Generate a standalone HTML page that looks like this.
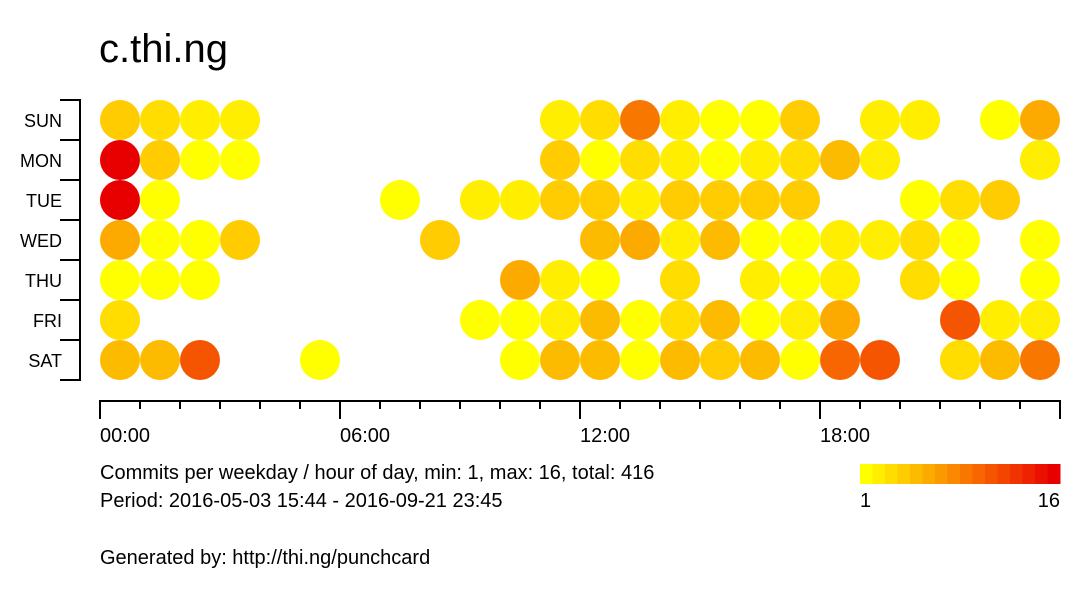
<!DOCTYPE html>
<html><head><meta charset="utf-8"><style>
html,body{margin:0;padding:0;background:#fff;}
svg{display:block;font-family:"Liberation Sans",Arial,sans-serif;}
</style></head><body>
<svg id="chart" width="1080" height="600" viewBox="0 0 1080 600">
<text x="99" y="62" font-size="40">c.thi.ng</text>
<g id="yaxis"></g>
<g id="xaxis"></g>
<g id="cells"></g>
<text x="100" y="479" font-size="20">Commits per weekday / hour of day, min: 1, max: 16, total: 416</text>
<text x="100" y="507" font-size="20">Period: 2016-05-03 15:44 - 2016-09-21 23:45</text>
<text x="100" y="564" font-size="20">Generated by: http://thi.ng/punchcard</text>
<g id="legend"></g>
</svg>
<script>
const days = ["SUN","MON","TUE","WED","THU","FRI","SAT"];
const hourLabels = ["00:00","06:00","12:00","18:00"];
const legendLabels = ["1","16"];
const minVal = 1;
const maxVal = 16;
const sun = [4,3,2,2,0,0,0,0,0,0,0,2,3,9,2,1,1,4,0,2,2,0,1,6];
const mon = [16,4,1,1,0,0,0,0,0,0,0,4,1,3,2,1,2,3,5,2,0,0,0,2];
const tue = [16,1,0,0,0,0,0,1,0,2,2,4,4,2,4,4,4,4,0,0,1,3,4,0];
const wed = [6,1,1,4,0,0,0,0,4,0,0,0,5,6,2,5,1,1,2,2,3,1,0,1];
const thu = [1,1,1,0,0,0,0,0,0,0,6,2,1,0,3,0,2,1,2,0,3,1,0,1];
const fri = [3,0,0,0,0,0,0,0,0,1,1,2,5,1,3,5,1,2,6,0,0,11,2,2];
const sat = [5,5,11,0,0,1,0,0,0,0,1,5,5,1,5,4,5,1,10,11,0,3,5,9];
const rows = [sun,mon,tue,wed,thu,fri,sat];

const NS="http://www.w3.org/2000/svg";
function mk(tag, attrs, parent){const e=document.createElementNS(NS,tag);for(const k in attrs)e.setAttribute(k,attrs[k]);parent.appendChild(e);return e;}
const xH = h => 120 + h*40;
const xTick = k => 100 + k*40;
const yD = d => 120 + d*40;
function color(v){
  const t=(v-minVal)/(maxVal-minVal);
  const r=Math.round(255-23*t*t), g=Math.round(255*(1-t));
  return `rgb(${r},${g},0)`;
}
const yax=document.getElementById('yaxis');
let l=mk('line',{x1:80,y1:100,x2:80,y2:380,stroke:'#000','stroke-width':2},yax);


for(let i=0;i<=days.length;i++){
  const t=mk('line',{x1:60,y1:100+i*40,x2:81,y2:100+i*40,stroke:'#000','stroke-width':2},yax);
  
  
}
days.forEach((d,i)=>{
  const t=mk('text',{x:62,y:yD(i)+7,'font-size':18,'text-anchor':'end'},yax);
  t.textContent=d;
  
  
});
const xax=document.getElementById('xaxis');
l=mk('line',{x1:100,y1:401,x2:1060,y2:401,stroke:'#000','stroke-width':2},xax);


for(let k=0;k<=24;k++){
  const major=k%6===0;
  const t=mk('line',{x1:xTick(k),y1:400,x2:xTick(k),y2:major?419:409,stroke:'#000','stroke-width':2},xax);
  
  
}
hourLabels.forEach((s,i)=>{
  const t=mk('text',{x:xTick(i*6),y:442,'font-size':20},xax);
  t.textContent=s;
  
  
});
const cg=document.getElementById('cells');
rows.forEach((row,d)=>row.forEach((v,h)=>{
  if(!v)return;
  const c=mk('circle',{cx:xH(h),cy:yD(d),r:20,fill:color(v)},cg);
  
  
}));
const lg=document.getElementById('legend');
for(let v=minVal;v<=maxVal;v++){
  const r=mk('rect',{x:860+(v-minVal)*12.5,y:464,width:13,height:20,fill:color(v)},lg);
  
  
}
let t=mk('text',{x:860,y:507,'font-size':20},lg);t.textContent=legendLabels[0];


t=mk('text',{x:1060,y:507,'font-size':20,'text-anchor':'end'},lg);t.textContent=legendLabels[1];


</script>
</body></html>
